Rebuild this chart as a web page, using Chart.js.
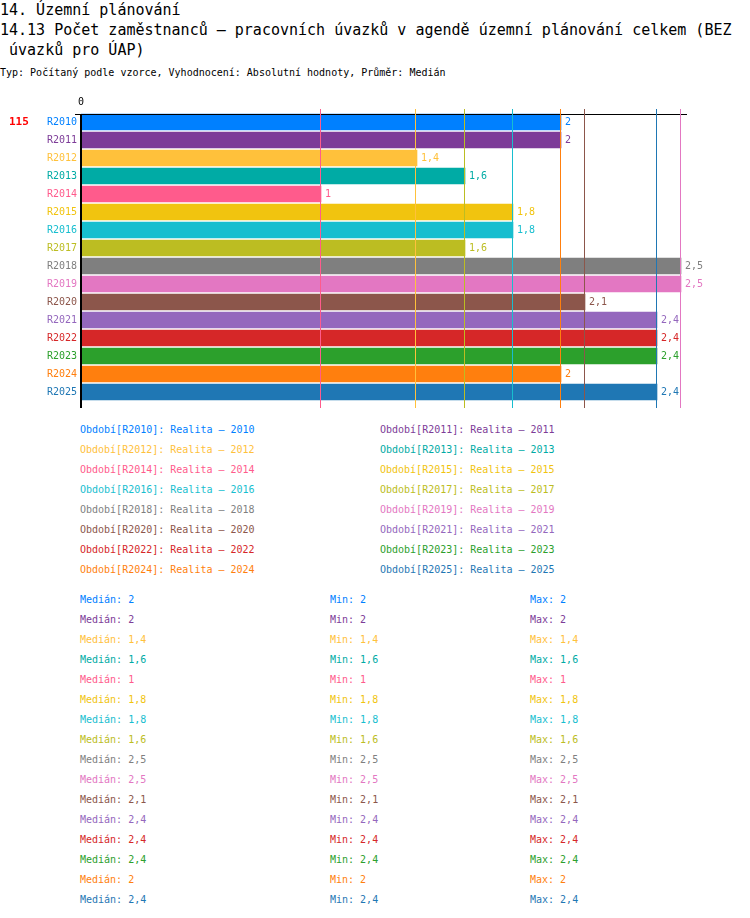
<!DOCTYPE html>
<html>
<head>
<meta charset="utf-8">
<script src="https://cdn.jsdelivr.net/npm/chart.js@4"></script>
<style>
body { margin: 0; font-family: "DejaVu Sans Mono", monospace; background: #fff; }
.t { position: absolute; white-space: pre; }
.big { font-size: 15px; line-height: 20px; color: #000; }
.small { font-size: 10px; line-height: 12px; }
</style>
</head>
<body>
<div class="t big" style="left:0;top:0">14. Územní plánování</div>
<div class="t big" style="left:0;top:20px">14.13 Počet zaměstnanců – pracovních úvazků v agendě územní plánování celkem (BEZ
 úvazků pro ÚAP)</div>
<div class="t small" style="left:0;top:67px;color:#000">Typ: Počítaný podle vzorce, Vyhodnocení: Absolutní hodnoty, Průměr: Medián</div>
<canvas id="chart" width="750" height="330" style="position:absolute;left:0;top:90px"></canvas>
<div id="legend"></div>
<div id="stats"></div>
<script>
var categories = ['R2010', 'R2011', 'R2012', 'R2013', 'R2014', 'R2015', 'R2016', 'R2017',
    'R2018', 'R2019', 'R2020', 'R2021', 'R2022', 'R2023', 'R2024', 'R2025'];
var years = ['2010', '2011', '2012', '2013', '2014', '2015', '2016', '2017',
    '2018', '2019', '2020', '2021', '2022', '2023', '2024', '2025'];
var values = [2, 2, 1.4, 1.6, 1, 1.8, 1.8, 1.6, 2.5, 2.5, 2.1, 2.4, 2.4, 2.4, 2, 2.4];
var medians = [2, 2, 1.4, 1.6, 1, 1.8, 1.8, 1.6, 2.5, 2.5, 2.1, 2.4, 2.4, 2.4, 2, 2.4];
var mins = [2, 2, 1.4, 1.6, 1, 1.8, 1.8, 1.6, 2.5, 2.5, 2.1, 2.4, 2.4, 2.4, 2, 2.4];
var maxs = [2, 2, 1.4, 1.6, 1, 1.8, 1.8, 1.6, 2.5, 2.5, 2.1, 2.4, 2.4, 2.4, 2, 2.4];
var colors = ['#0080ff', '#7d3c98', '#ffc13b', '#00aba5', '#ff5b8c', '#f1c40f', '#17becf', '#bcbd22',
    '#7f7f7f', '#e377c2', '#8c564b', '#9467bd', '#d62728', '#2ca02c', '#ff7f0e', '#1f77b4'];
var xTicks = [0];
var countLabel = '115';

var monoFont = '"DejaVu Sans Mono", monospace';

function fmt(v) {
    return String(v).replace('.', ',');
}

// legend and stats as plain text
var legendHtml = '';
for (var i = 0; i < categories.length; i++) {
    var row = Math.floor(i / 2);
    var left = i % 2 ? 380 : 80;
    legendHtml += '<div class="t small" style="left:' + left + 'px;top:' + (424 + row * 20) + 'px;color:' + colors[i] + '">'
        + 'Období[' + categories[i] + ']: Realita – ' + years[i] + '</div>';
}
document.getElementById('legend').innerHTML = legendHtml;

var statsHtml = '';
for (var i = 0; i < categories.length; i++) {
    var rowTop = 594 + i * 20;
    statsHtml += '<div class="t small" style="left:80px;top:' + rowTop + 'px;color:' + colors[i] + '">Medián: ' + fmt(medians[i]) + '</div>';
    statsHtml += '<div class="t small" style="left:330px;top:' + rowTop + 'px;color:' + colors[i] + '">Min: ' + fmt(mins[i]) + '</div>';
    statsHtml += '<div class="t small" style="left:530px;top:' + rowTop + 'px;color:' + colors[i] + '">Max: ' + fmt(maxs[i]) + '</div>';
}
document.getElementById('stats').innerHTML = statsHtml;

// reference lines, axis lines and value labels
var overlay = {
    id: 'overlay',
    afterDatasetsDraw: function (chart) {
        var ctx = chart.ctx;
        var area = chart.chartArea;
        var xs = chart.scales.x;
        var meta = chart.getDatasetMeta(0);
        ctx.save();

        var zero = xs.getPixelForValue(0);
        ctx.lineWidth = 1;
        ctx.strokeStyle = '#000';
        ctx.beginPath();
        ctx.moveTo(zero - 6, area.top + 1.5);
        ctx.lineTo(area.right, area.top + 1.5);
        ctx.stroke();

        for (var i = 0; i < values.length; i++) {
            var px = Math.round(xs.getPixelForValue(values[i]) - 1.5) + 0.5;
            ctx.strokeStyle = colors[i];
            ctx.beginPath();
            ctx.moveTo(px, area.top - 4);
            ctx.lineTo(px, area.bottom + 7);
            ctx.stroke();
        }

        ctx.strokeStyle = '#000';
        ctx.lineWidth = 2;
        ctx.beginPath();
        ctx.moveTo(zero, area.top + 1);
        ctx.lineTo(zero, area.bottom + 7);
        ctx.stroke();

        ctx.font = '10px ' + monoFont;
        ctx.textBaseline = 'middle';
        ctx.textAlign = 'left';
        meta.data.forEach(function (bar, i) {
            ctx.fillStyle = colors[i];
            ctx.fillText(fmt(values[i]), bar.x + 4, bar.y);
        });

        ctx.font = 'bold 11px ' + monoFont;
        ctx.fillStyle = '#ff0000';
        ctx.fillText(countLabel, 9, meta.data[0].y);
        ctx.restore();
    }
};

var chart = new Chart(document.getElementById('chart'), {
    type: 'bar',
    data: {
        labels: categories,
        datasets: [{
            data: values,
            backgroundColor: colors,
            borderWidth: 0,
            barThickness: 16
        }]
    },
    options: {
        indexAxis: 'y',
        responsive: false,
        animation: false,
        devicePixelRatio: 1,
        layout: {
            padding: { left: 0, right: 63, top: 0, bottom: 19 }
        },
        scales: {
            x: {
                position: 'top',
                min: 0,
                max: 2.525,
                grid: { display: false, drawTicks: false },
                border: { display: false },
                afterBuildTicks: function (scale) {
                    scale.ticks = xTicks.map(function (v) { return { value: v }; });
                },
                afterFit: function (scale) {
                    scale.height = 23;
                },
                ticks: {
                    autoSkip: false,
                    padding: 5,
                    color: '#000',
                    font: { family: monoFont, size: 10 },
                    callback: function (value) {
                        return fmt(value);
                    }
                }
            },
            y: {
                grid: { display: false, drawTicks: false },
                border: { display: false },
                afterFit: function (scale) {
                    scale.width = 81;
                },
                ticks: {
                    autoSkip: false,
                    padding: 4,
                    color: function (c) {
                        return colors[c.index];
                    },
                    font: { family: monoFont, size: 10 }
                }
            }
        },
        plugins: {
            legend: { display: false },
            tooltip: { enabled: false }
        }
    },
    plugins: [overlay]
});
</script>
</body>
</html>
